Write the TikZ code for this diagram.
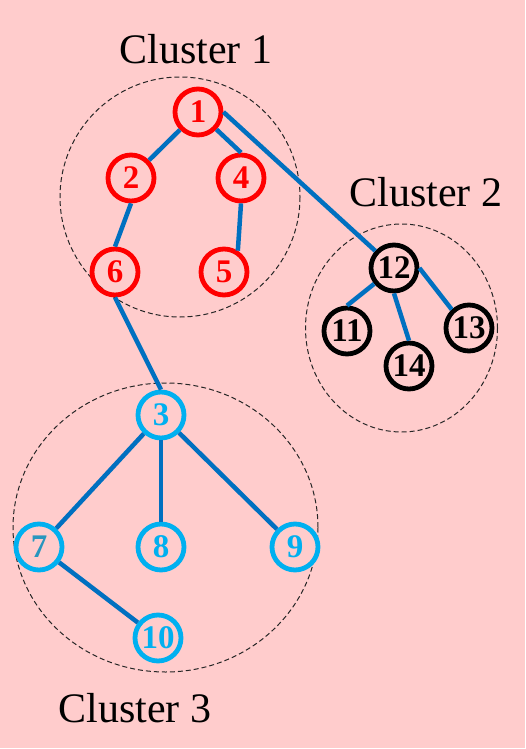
\documentclass[tikz,border=0pt]{standalone}
\usepackage{fontspec}
\setmainfont{Liberation Serif}
\definecolor{bgpink}{RGB}{255,204,204}
\definecolor{edgeblue}{RGB}{0,112,192}
\definecolor{nodered}{RGB}{255,0,0}
\definecolor{nodecyan}{RGB}{0,176,240}
\definecolor{seventeal}{RGB}{40,150,190}
\begin{document}
\begin{tikzpicture}[x=1pt,y=-1pt,
  vtx/.style={circle,draw,line width=4.8pt,minimum size=46pt,inner sep=0pt,
    font=\fontsize{33}{33}\selectfont\bfseries},
  redv/.style={vtx,draw=nodered,text=nodered},
  blackv/.style={vtx,draw=black,text=black},
  cyanv/.style={vtx,draw=nodecyan,text=nodecyan},
  edge/.style={draw=edgeblue,line width=4.5pt},
  cluster/.style={draw=black!85,line width=1pt,dash pattern=on 5pt off 3pt},
  clabel/.style={font=\fontsize{42}{42}\selectfont,anchor=base}]
\useasboundingbox (0,0) rectangle (526,749);
\fill[bgpink] (0,0) rectangle (524.5,747.5);
% clusters
\draw[cluster] (180,197) ellipse [x radius=120,y radius=120];
\draw[cluster] (401.5,328) ellipse [x radius=96,y radius=104];
\draw[cluster] (165.5,527.5) ellipse [x radius=152.5,y radius=144.5];
% labels
\node[clabel] (l1) at (196,64) {Cluster 1};
\node[clabel] (l2) at (426,206) {Cluster 2};
\node[clabel] (l3) at (135,722) {Cluster 3};
% nodes
\node[redv] (n1) at (198,112) {1};
\node[redv] (n2) at (131,178) {2};
\node[redv] (n4) at (241,178) {4};
\node[redv] (n6) at (115,272) {6};
\node[redv] (n5) at (224,272) {5};
\node[blackv] (n12) at (394,268) {12};
\node[blackv] (n11) at (347,331) {11};
\node[blackv] (n13) at (469,328) {13};
\node[blackv] (n14) at (409,366) {14};
\node[cyanv] (n3) at (161,415) {3};
\node[cyanv,text=seventeal] (n7) at (39,547) {7};
\node[cyanv] (n8) at (161,547) {8};
\node[cyanv] (n9) at (295,547) {9};
\node[cyanv] (n10) at (158,638) {10};
% edges
\draw[edge] (n1) -- (n2);
\draw[edge] (n1) -- (n4.north);
\draw[edge] (n2.south) -- (n6.north);
\draw[edge] (n4.south) -- (n5.57);
\draw[edge] (n1.east) -- (n12);
\draw[edge] (n12) -- (n11.north);
\draw[edge] (n12.south) -- (n14.north);
\draw[edge] (n12.east) -- (n13.133);
\draw[edge] (n6.south) -- (n3.north);
\draw[edge] (n3) -- (n7);
\draw[edge] (n3.south) -- (n8.north);
\draw[edge] (n3) -- (n9);
\draw[edge] (n7) -- (n10);
\end{tikzpicture}
\end{document}
